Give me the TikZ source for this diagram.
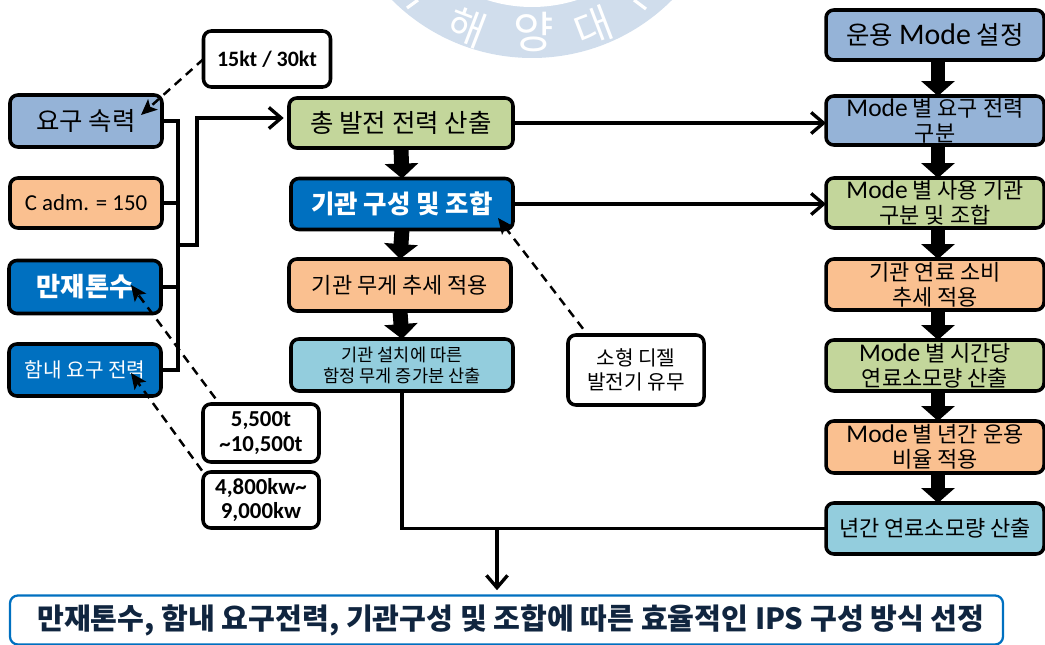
\documentclass[tikz,border=0pt]{standalone}
\usepackage{xcolor}
\usepackage{fontspec}
\usetikzlibrary{arrows.meta,positioning}
\setmainfont{Noto Sans CJK KR}
\newfontfamily\latinfont{Carlito}
\definecolor{softblue}{RGB}{149,179,215}
\definecolor{softorange}{RGB}{250,192,144}
\definecolor{softgreen}{RGB}{195,214,155}
\definecolor{softteal}{RGB}{147,205,221}
\definecolor{deepblue}{RGB}{0,112,192}
\definecolor{sealblue}{RGB}{208,221,236}
\definecolor{inkblue}{RGB}{16,37,63}
\newcommand{\fs}[2][14]{\fontsize{#2}{#1}\selectfont}
\tikzset{
  box/.style 2 args={draw=black, line width=2pt, rounded corners=4.5pt, align=center, inner sep=0pt, outer sep=0pt,
    minimum width=#1*0.02cm, minimum height=#2*0.02cm},
  linkline/.style={line width=1.8pt},
  linkarrow/.style={line width=1.8pt, -{Straight Barb[length=7pt,width=12pt,line width=1.9pt]}},
  dashlink/.style={line width=1.4pt, dash pattern=on 5pt off 3.5pt, -{Stealth[length=9pt,width=8pt,inset=2pt]}},
  blockarrow/.style={line width=8.5pt, -{Triangle[width=18.7pt,length=8.5pt]}}
}
\begin{document}
\begin{tikzpicture}[x=0.02cm,y=-0.02cm]
\useasboundingbox (0,0) rectangle (1045,645);

% Seal behind the diagram
\begin{scope}
\clip (0,0) rectangle (1045,645);
\fill[sealblue] (532,-140) circle (198*0.02cm);
\fill[white] (532,-140) circle (147*0.02cm);
\draw[white, line width=1.8pt] (407,8) -- (418,0);
\draw[white, line width=1.8pt] (634,0) -- (646,9);
\node[white, rotate=-21, inner sep=0pt, font={\fs[23]{23}}] (sealhae) at (467,27) {해};
\node[white, inner sep=0pt, font={\fs[23]{25}}] (sealyang) at (534,32) {양};
\node[white, rotate=21, inner sep=0pt, font={\fs[23]{23}}] (sealdae) at (593,27) {대};
\end{scope}

% Left column - inputs
\node[box={152}{52}, fill=softblue, font=\fs{14.5}] (speed) at (86,121) {요구 속력};
\node[box={152}{50}, fill=softorange, font=\fs{13}\latinfont] (cadm) at (86,203) {C adm. = 150};
\node[box={152}{53}, fill=deepblue, text=white, font=\fs{15}\bfseries] (load) at (85,287) {만재톤수};
\node[box={152}{52}, fill=deepblue, text=white, font=\fs{11.5}] (onboard) at (85,370) {함내 요구 전력};

% Value boxes
\node[box={127}{56}, fill=white, font=\fs{12.5}\latinfont\bfseries] (knots) at (267,59) {15kt / 30kt};
\node[box={116}{58}, fill=white, font=\fs{13}\latinfont\bfseries] (tons) at (261,433) {5,500t\\\textasciitilde10,500t};
\node[box={116}{56}, fill=white, font=\fs{13}\latinfont\bfseries] (power) at (261,500) {4,800kw\textasciitilde\\9,000kw};
\node[box={136}{70}, fill=white, font=\fs{11.5}] (diesel) at (636,370) {소형 디젤\\발전기 유무};

% Middle column
\node[box={224}{50}, fill=softgreen, font=\fs{14.5}] (total) at (401,123) {총 발전 전력 산출};
\node[box={222}{51}, fill=deepblue, text=white, font=\fs{14.5}\bfseries] (engine) at (402,204) {기관 구성 및 조합};
\node[box={222}{52}, fill=softorange, font=\fs{12.5}] (weight) at (400,285) {기관 무게 추세 적용};
\node[box={222}{52}, fill=softteal, font={\fs[12]{10}}] (added) at (402,365) {기관 설치에 따른\\함정 무게 증가분 산출};

% Right column
\node[box={218}{50}, fill=softblue, font=\fs{14.5}] (mode) at (935,35) {운용 {\latinfont\fs{17}Mode} 설정};
\node[box={218}{49}, fill=softblue, font=\fs{12.5}] (modepower) at (935,120.5) {{\latinfont\fs{14.5}Mode} 별 요구 전력\\구분};
\node[box={218}{50}, fill=softgreen, font=\fs{12.5}] (modeengine) at (935,203) {{\latinfont\fs{14.5}Mode} 별 사용 기관\\구분 및 조합};
\node[box={218}{51}, fill=softorange, font=\fs{12.5}] (fueltrend) at (935,284.5) {기관 연료 소비\\추세 적용};
\node[box={218}{51}, fill=softgreen, font=\fs{12.5}] (hourly) at (935,365.5) {{\latinfont\fs{14.5}Mode} 별 시간당\\연료소모량 산출};
\node[box={218}{52}, fill=softorange, font=\fs{12.5}] (yearly) at (935,447) {{\latinfont\fs{14.5}Mode} 별 년간 운용\\비율 적용};
\node[box={218}{51}, fill=softteal, font=\fs{12.5}] (fuelyear) at (935,528.5) {년간 연료소모량 산출};

% Result box
\node[draw=deepblue, line width=1.3pt, rounded corners=4.5pt, fill=white, inner sep=0pt, outer sep=0pt,
  minimum width=993*0.02cm, minimum height=49*0.02cm, text=inkblue, font=\fs{16.6}\bfseries] (decision) at (506.5,620)
  {\hspace*{5pt}만재톤수, 함내 요구전력, 기관구성 및 조합에 따른 효율적인 IPS 구성 방식 선정};

% Input bus
\coordinate (bus) at (178,245);
\coordinate (turn) at (197,118);
\coordinate (merge) at (497,527);
\draw[linkline] (speed.east) -| (bus);
\draw[linkline] (onboard.east) -| (bus);
\draw[linkline] (cadm.east) -- (cadm.east -| bus);
\draw[linkline] (load.east) -- (load.east -| bus);
\draw[linkarrow] (bus) -- (bus -| turn) -- (turn) -- ([xshift=-3pt]total.west |- turn);

% Links between the columns
\draw[linkarrow] (total.east) -- (total.east -| modepower.west);
\draw[linkarrow] (engine.east) -- (engine.east -| modeengine.west);
\draw[linkline] (added.south) |- (fuelyear.west);
\draw[linkarrow] (merge) -- ([yshift=3pt]decision.north -| merge);

% Block arrows
\foreach \from/\to in {total/engine, engine/weight, weight/added}
  \draw[blockarrow] (\from.south) -- (\to.north);
\foreach \from/\to in {mode/modepower, modepower/modeengine, modeengine/fueltrend, fueltrend/hourly, hourly/yearly, yearly/fuelyear}
  \draw[blockarrow] ([xshift=1.7pt]\from.south) -- ([xshift=1.7pt]\to.north);

% Dashed notes
\coordinate (speedtip) at (141,115);
\coordinate (loadtip) at (131,285);
\coordinate (onboardtip) at (131,373);
\coordinate (enginetip) at (498,218);
\draw[dashlink] (knots.west) -- (speedtip);
\draw[dashlink, shorten <=4pt] (tons.145) -- (loadtip);
\draw[dashlink, shorten <=1pt] (power.north west) -- (onboardtip);
\draw[dashlink, shorten <=4.5pt] (diesel.144) -- (enginetip);
\end{tikzpicture}
\end{document}
